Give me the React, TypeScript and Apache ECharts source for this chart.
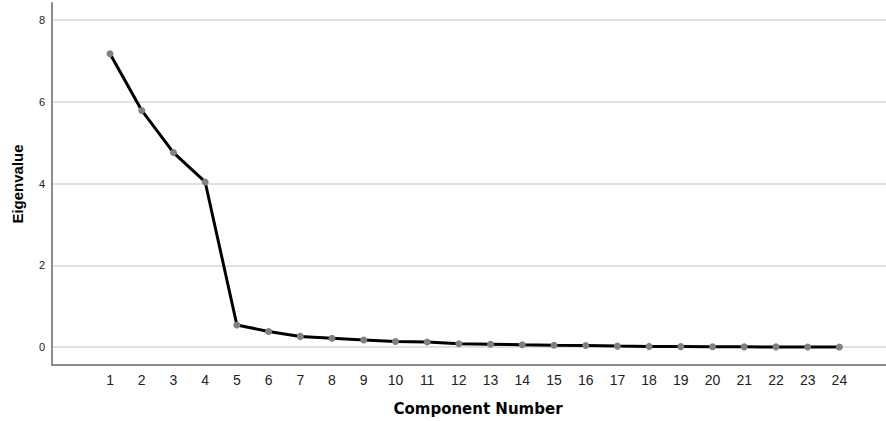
import React, { useEffect, useRef } from "react";
import * as echarts from "echarts";

const components = [1, 2, 3, 4, 5, 6, 7, 8, 9, 10, 11, 12, 13, 14, 15, 16, 17, 18, 19, 20, 21, 22, 23, 24];
const eigenvalues = [7.18, 5.79, 4.76, 4.04, 0.54, 0.38, 0.26, 0.215, 0.17, 0.135, 0.125, 0.08, 0.07, 0.055, 0.045, 0.037, 0.022, 0.015, 0.01, 0.005, 0.004, 0.003, 0.002, 0.001];
const yTicks = [0, 2, 4, 6, 8];

export default function App() {
  const ref = useRef<HTMLDivElement>(null);
  useEffect(() => {
    if (!ref.current) return;
    const chart = echarts.init(ref.current, undefined, { renderer: "svg" });
    const font = "Arial, 'Liberation Sans', sans-serif";
    chart.setOption({
      animation: false,
      backgroundColor: "#ffffff",
      grid: { left: 52, right: 0, top: 3, bottom: 55, containLabel: false },
      xAxis: {
        type: "value",
        min: -0.83,
        max: 25.47,
        name: "Component Number",
        nameLocation: "middle",
        nameGap: 36,
        nameTextStyle: {
          fontFamily: "'DejaVu Sans', sans-serif",
          fontSize: 15,
          fontWeight: "bold",
          color: "#000",
          padding: [0, 0, 0, 18],
        },
        axisLine: { show: true, onZero: false, lineStyle: { color: "#8c8c8c", width: 2 } },
        axisTick: { show: false, customValues: components },
        axisLabel: { customValues: components, fontFamily: font, fontSize: 14, color: "#222", margin: 8 },
        splitLine: { show: false },
      },
      yAxis: {
        type: "value",
        min: -0.44,
        max: 8.42,
        name: "Eigenvalue",
        nameLocation: "middle",
        nameGap: 27,
        nameTextStyle: { fontFamily: font, fontSize: 15, fontWeight: "bold", color: "#000" },
        axisLine: { show: true, onZero: false, lineStyle: { color: "#8c8c8c", width: 2 } },
        axisTick: { show: false, customValues: yTicks },
        axisLabel: { customValues: yTicks, fontFamily: font, fontSize: 11, color: "#222", margin: 7 },
        splitLine: { show: true, lineStyle: { color: "#d6d6d6", width: 1.5 } },
      },
      series: [
        {
          type: "line",
          data: components.map((c, i) => [c, eigenvalues[i]]),
          lineStyle: { color: "#000", width: 3 },
          symbol: "circle",
          symbolSize: 7,
          itemStyle: { color: "#808080", borderWidth: 0 },
          z: 3,
        },
      ],
    });
    return () => chart.dispose();
  }, []);
  return <div ref={ref} style={{ width: 886, height: 421, position: "absolute", left: 0, top: 0 }} />;
}
